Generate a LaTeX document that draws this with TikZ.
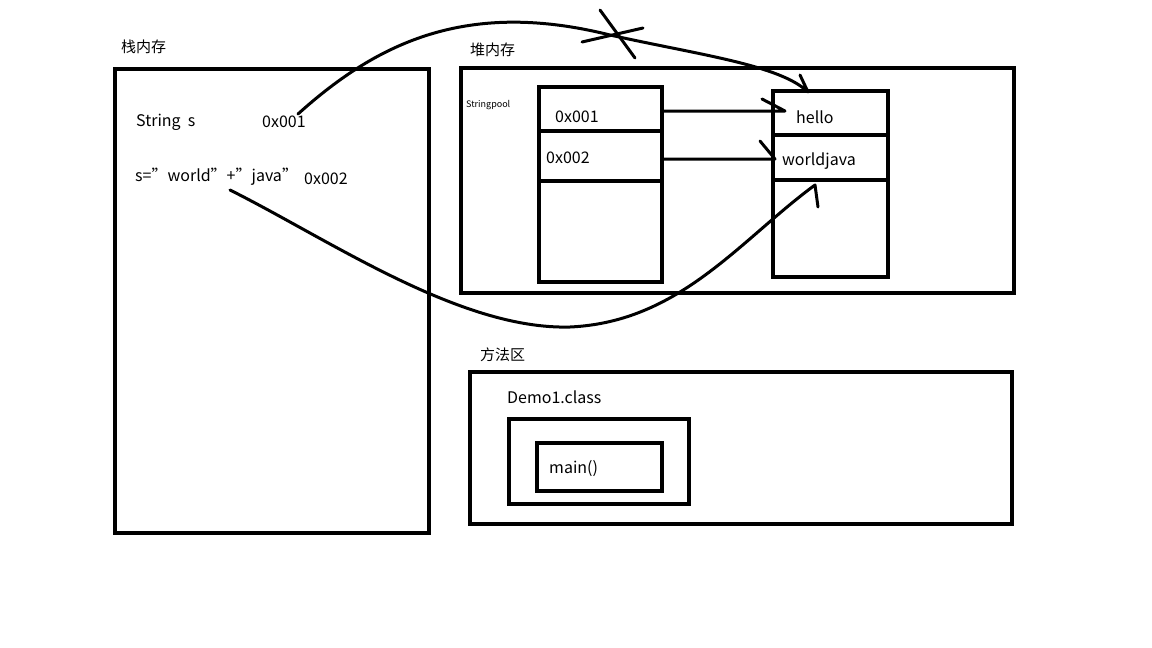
\documentclass[tikz,border=0pt]{standalone}
\usepackage{fontspec}
\setmainfont{Noto Sans CJK SC}
\begin{document}
\begin{tikzpicture}[x=1pt,y=-1pt,
 box/.style={draw,line width=3.5pt},
 ln/.style={line width=3pt,line cap=round,line join=round},
 t/.style={anchor=west,inner sep=0pt,font=\fontsize{16}{18}\selectfont},
 tz/.style={anchor=west,inner sep=0pt,font=\fontsize{15}{18}\selectfont}]
\useasboundingbox[fill=white] (0,0) rectangle (1152,648);
\node[tz] (lstack) at (121,47) {栈内存};
\draw[box] (115,69) rectangle (429,533);
\node[t] (s1) at (136,122) {String\ \ s};
\node[t] (a1) at (262,122) {0x001};
\node[t] (s2) at (135,177) {s="world"+"java"};
\node[t] (a2) at (304,179) {0x002};
\node[tz] (lheap) at (470,50) {堆内存};
\draw[box] (461,68) rectangle (1014,293);
\node[anchor=west,inner sep=0pt,font=\fontsize{9}{10}\selectfont] (sp) at (466,105) {Stringpool};
\draw[box] (539,87) rectangle (662,282);
\draw[box] (539,131) -- (662,131) (539,181) -- (662,181);
\node[t] (p1) at (555,117) {0x001};
\node[t] (p2) at (546,158) {0x002};
\draw[box] (773,91) rectangle (888,277);
\draw[box] (773,135) -- (888,135) (773,180) -- (888,180);
\node[t] (h) at (796,117) {hello};
\node[t] (w) at (782,161) {worldjava};
\coordinate (c1) at (662,111); \coordinate (c1e) at (785,111);
\draw[ln] (c1) -- (c1e) -- (762,99);
\coordinate (c2) at (662,159); \coordinate (c2e) at (775,159);
\draw[ln] (c2) -- (c2e) -- (760,141);
\coordinate (r1) at (298,114); \coordinate (r1e) at (808,92);
\draw[ln] (r1) .. controls (380,40) and (470,0) .. (610,35) .. controls (700,55) and (780,65) .. (r1e) -- (800,75);
\draw[ln] (600,10) -- (635,58) (582,42) -- (643,28);
\coordinate (r2) at (230,190); \coordinate (r2e) at (815,185);
\draw[ln] (r2) .. controls (330,240) and (460,330) .. (570,327) .. controls (680,322) and (740,240) .. (r2e) -- (818,207);
\node[tz] (lm) at (480,355) {方法区};
\draw[box] (470,372) rectangle (1012,524);
\node[t] (d) at (507,397) {Demo1.class};
\draw[box] (509,419) rectangle (689,504);
\draw[box] (537,443) rectangle (662,491);
\node[t] (m) at (549,469) {main()};
\end{tikzpicture}
\end{document}
